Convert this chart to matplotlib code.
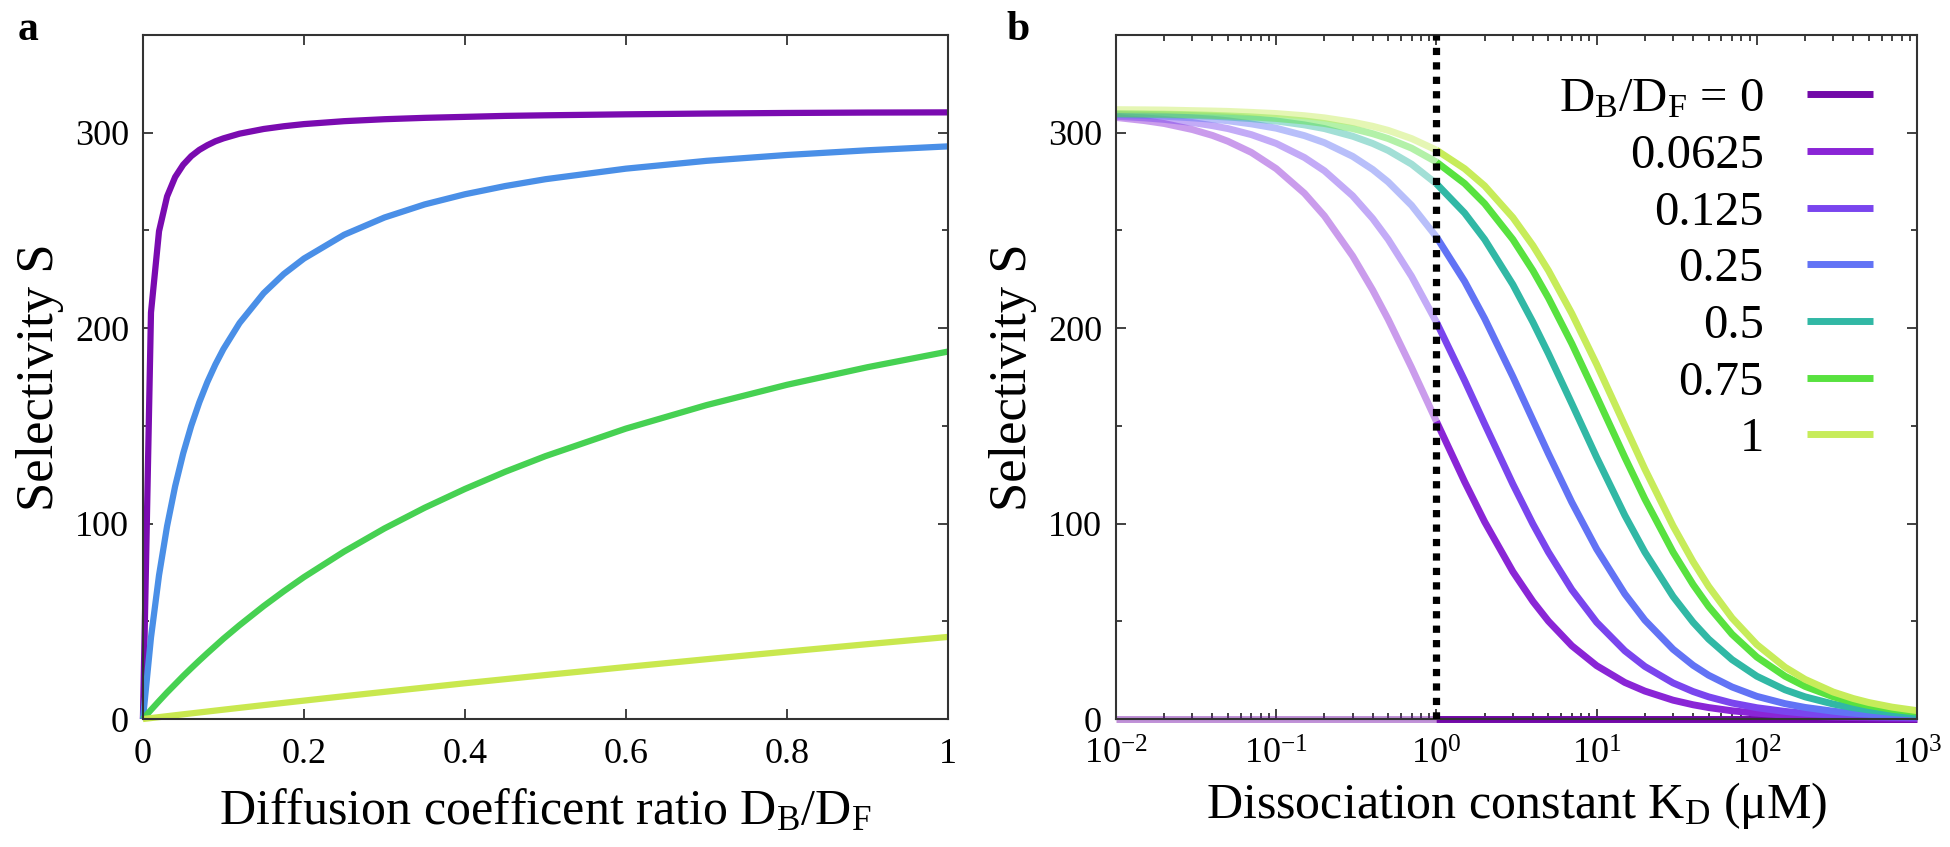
import matplotlib
matplotlib.use("Agg")
import matplotlib.pyplot as plt
from matplotlib.ticker import MultipleLocator, LogLocator, NullFormatter

plt.rcParams['font.family'] = ['Liberation Serif', 'DejaVu Serif']
plt.rcParams['mathtext.fontset'] = 'custom'
plt.rcParams['mathtext.rm'] = 'Liberation Serif'
plt.rcParams['mathtext.it'] = 'Liberation Serif:italic'

# ---- panel a: selectivity vs diffusion ratio
ratio = [0, 0.01, 0.02, 0.03, 0.04, 0.05, 0.06, 0.07, 0.08, 0.09, 0.1, 0.12, 0.15, 0.175, 0.2,
         0.25, 0.3, 0.35, 0.4, 0.45, 0.5, 0.6, 0.7, 0.8, 0.9, 1.0]
sel_a1 = [0, 208.0, 249.6, 267.4, 277.3, 283.6, 288.0, 291.2, 293.6, 295.6, 297.1, 299.5, 301.9, 303.3, 304.4,
          305.9, 306.9, 307.6, 308.1, 308.6, 308.9, 309.4, 309.8, 310.1, 310.3, 310.4]
sel_a2 = [0, 41.7, 73.6, 98.7, 119.1, 135.9, 150.0, 162.0, 172.4, 181.4, 189.3, 202.6, 217.9, 227.7, 235.6,
          247.8, 256.6, 263.3, 268.5, 272.7, 276.2, 281.6, 285.6, 288.6, 291.0, 293.0]
sel_a3 = [0, 4.66, 9.18, 13.6, 17.8, 22.0, 26.0, 29.9, 33.7, 37.4, 41.1, 48.0, 57.8, 65.4, 72.6,
          85.7, 97.5, 108.1, 117.7, 126.5, 134.5, 148.6, 160.6, 171.0, 180.0, 188.0]
sel_a4 = [0, 0.49, 0.97, 1.45, 1.93, 2.41, 2.88, 3.36, 3.83, 4.31, 4.78, 5.72, 7.11, 8.27, 9.41,
          11.68, 13.9, 16.1, 18.3, 20.4, 22.5, 26.6, 30.6, 34.5, 38.3, 42.0]
colors_a = ['#7a0bb0', '#4a8fe7', '#46d152', '#c9e84f']

# ---- panel b: selectivity vs dissociation constant
kd = [0.01, 0.015, 0.02, 0.03, 0.04, 0.05, 0.07, 0.1, 0.15, 0.2, 0.3, 0.4, 0.5, 0.7, 1, 1.5, 2, 3, 4, 5, 7,
      10, 15, 20, 30, 40, 50, 70, 100, 150, 200, 300, 400, 500, 700, 1000]
sel_0 = [0] * len(kd)
sel_00625 = [307.8, 306.2, 304.7, 301.6, 298.6, 295.6, 289.9, 281.6, 269.0, 257.4, 236.9, 219.5, 204.5, 179.8,
             152.3, 121.4, 100.9, 75.4, 60.2, 50.1, 37.5, 27.3, 18.7, 14.3, 9.64, 7.29, 5.86, 4.21, 2.96,
             1.98, 1.49, 0.99, 0.74, 0.60, 0.42, 0.30]
sel_0125 = [308.4, 307.6, 306.8, 305.2, 303.6, 302.1, 299.0, 294.5, 287.3, 280.5, 267.7, 256.1, 245.4, 226.5,
            203.1, 173.2, 151.0, 120.2, 99.8, 85.4, 66.2, 49.5, 34.9, 26.9, 18.46, 14.06, 11.35, 8.19, 5.78,
            3.88, 2.92, 1.95, 1.47, 1.17, 0.84, 0.59]
sel_025 = [309.2, 308.8, 308.4, 307.6, 306.9, 306.1, 304.5, 302.3, 298.5, 294.9, 287.9, 281.2, 274.8, 262.8,
           246.7, 223.9, 204.9, 175.2, 153.0, 135.8, 110.9, 87.0, 64.0, 50.6, 35.7, 27.5, 22.4, 16.4, 11.6,
           7.86, 5.93, 3.98, 2.99, 2.40, 1.72, 1.20]
sel_05 = [309.6, 309.4, 309.2, 308.8, 308.4, 308.0, 307.2, 306.0, 304.0, 302.1, 298.2, 294.5, 290.9, 283.9,
          273.9, 258.9, 245.4, 222.3, 203.1, 187.0, 161.4, 133.9, 104.2, 85.4, 62.7, 49.5, 40.9, 30.4, 21.9,
          14.95, 11.35, 7.66, 5.78, 4.64, 3.33, 2.34]
sel_075 = [309.7, 309.6, 309.5, 309.2, 308.9, 308.6, 308.1, 307.3, 306.0, 304.7, 302.1, 299.5, 297.0, 292.1,
           285.0, 274.0, 263.7, 245.4, 229.5, 215.5, 192.1, 165.1, 133.9, 112.6, 85.4, 68.8, 57.6, 43.4, 31.7,
           21.9, 16.7, 11.35, 8.59, 6.91, 4.97, 3.49]
sel_1 = [311.8, 311.7, 311.6, 311.3, 311.1, 310.9, 310.4, 309.8, 308.7, 307.6, 305.4, 303.3, 301.2, 297.0,
         291.1, 281.6, 272.8, 256.6, 242.3, 229.5, 207.5, 181.5, 150.1, 127.9, 98.8, 80.5, 67.9, 51.7, 38.1,
         26.5, 20.3, 13.8, 10.48, 8.44, 6.07, 4.28]
labels_b = [r'D$_\mathrm{B}$/D$_\mathrm{F}$ = 0', '0.0625', '0.125', '0.25', '0.5', '0.75', '1']
colors_b = ['#7209a8', '#8a25d6', '#7a45ee', '#6273f5', '#31b8a5', '#58e23f', '#c7ec5a']
kd_cut = 1

fig = plt.figure(figsize=(19.5, 8.47), dpi=100)
ax1 = fig.add_axes([0.0733, 0.1511, 0.4128, 0.8076])
ax2 = fig.add_axes([0.5723, 0.1511, 0.4108, 0.8076])

for s, c in zip([sel_a1, sel_a2, sel_a3, sel_a4], colors_a):
    ax1.plot(ratio, s, color=c, lw=4.5, clip_on=False, solid_capstyle='butt', solid_joinstyle='round')
ax1.set_xlim(0, 1)
ax1.set_ylim(0, 350)
ax1.yaxis.set_major_locator(MultipleLocator(100))
ax1.yaxis.set_minor_locator(MultipleLocator(50))
ax1.set_xticks([0, 0.2, 0.4, 0.6, 0.8, 1.0], ['0', '0.2', '0.4', '0.6', '0.8', '1'])
ax1.set_xlabel(r'Diffusion coefficent ratio D$_\mathrm{B}$/D$_\mathrm{F}$', fontsize=36, labelpad=12)
ax1.set_ylabel('Selectivity S', fontsize=38, labelpad=8)

series_b = [sel_0, sel_00625, sel_0125, sel_025, sel_05, sel_075, sel_1]
i_cut = kd.index(kd_cut)
for s, c, lab in zip(series_b, colors_b, labels_b):
    ax2.plot(kd[:i_cut + 1], s[:i_cut + 1], color=c, lw=5, alpha=0.45, clip_on=False,
             solid_capstyle='butt', solid_joinstyle='round')
    ax2.plot(kd[i_cut:], s[i_cut:], color=c, lw=5, clip_on=False, solid_capstyle='butt',
             solid_joinstyle='round', label=lab)
ax2.axvline(kd_cut, color='black', lw=5.2, linestyle=(0, (1, 1)), dash_capstyle='butt', zorder=5)
ax2.set_xscale('log')
ax2.set_xlim(1e-2, 1e3)
ax2.set_ylim(0, 350)
ax2.xaxis.set_major_locator(LogLocator(base=10, numticks=10))
ax2.xaxis.set_minor_locator(LogLocator(base=10, subs=range(2, 10), numticks=20))
ax2.xaxis.set_minor_formatter(NullFormatter())
ax2.yaxis.set_major_locator(MultipleLocator(100))
ax2.yaxis.set_minor_locator(MultipleLocator(50))
ax2.set_xlabel(r'Dissociation constant K$_\mathrm{D}$ (μM)', fontsize=36, labelpad=6)
ax2.set_ylabel('Selectivity S', fontsize=38, labelpad=8)

leg = ax2.legend(loc='upper right', bbox_to_anchor=(0.945, 0.938), frameon=False, markerfirst=False,
                 fontsize=35, handlelength=1.35, handletextpad=0.9, labelspacing=0.26,
                 borderaxespad=0, borderpad=0)
for t in leg.get_texts():
    t.set_ha('right')

for ax in (ax1, ax2):
    for sp in ax.spines.values():
        sp.set_linewidth(1.5)
        sp.set_color('#333333')
    ax.tick_params(which='both', direction='in', top=True, right=True, colors='#333333',
                   labelcolor='black', labelsize=26, width=1.3)
    ax.tick_params(which='major', length=7, pad=10)
    ax.tick_params(which='minor', length=4.5)
ax1.tick_params(axis='x', pad=14)
ax2.tick_params(axis='x', pad=14)

fig.text(0.009, 0.965, 'a', fontsize=30, fontweight='bold', va='center')
fig.text(0.516, 0.965, 'b', fontsize=30, fontweight='bold', va='center')

fig.savefig('out.png', dpi=100)
